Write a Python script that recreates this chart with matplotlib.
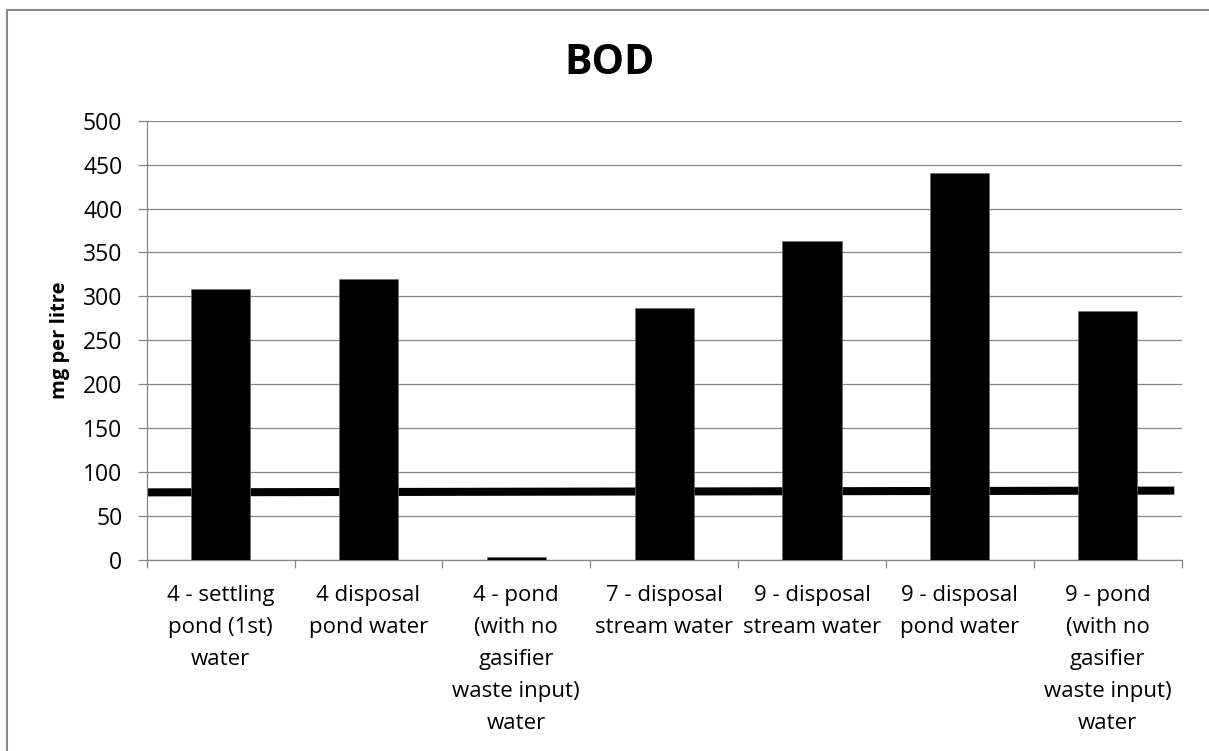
import matplotlib.pyplot as plt
from matplotlib.patches import Rectangle

plt.rcParams['font.family'] = ['Open Sans', 'DejaVu Sans']

# BOD readings per sampling site (mg per litre)
sites = ['4 - settling\npond (1st)\nwater',
         '4 disposal\npond water',
         '4 - pond\n(with no\ngasifier\nwaste input)\nwater',
         '7 - disposal\nstream water',
         '9 - disposal\nstream water',
         '9 - disposal\npond water',
         '9 - pond\n(with no\ngasifier\nwaste input)\nwater']
bod = [309, 320, 3, 287, 363, 441, 283]

# discharge limit line, drawn across the plot
limit_x = [-0.5, 6.45]
limit_y = [77, 79]

yticks = list(range(0, 501, 50))

grey = '#868686'

fig = plt.figure(figsize=(12.09, 7.51), dpi=100)
ax = fig.add_axes([0.1213, 0.2543, 0.8561, 0.585])

x = list(range(len(sites)))
ax.bar(x, bod, width=0.4, color='black', edgecolor='#6f6f6f', linewidth=0.5, zorder=3)
ax.plot(limit_x, limit_y, color='black', linewidth=5.8, solid_capstyle='butt', zorder=2)

ax.set_xlim(-0.5, len(sites) - 0.5)
ax.set_ylim(0, 500)
ax.set_yticks(yticks)
ax.yaxis.grid(True, color=grey, linewidth=0.9)
ax.set_axisbelow(True)

ax.set_xticks([i - 0.5 for i in range(len(sites) + 1)])
ax.set_xticklabels([])
ax.set_xticks(x, minor=True)
ax.set_xticklabels(sites, minor=True, fontsize=16, linespacing=1.68)
ax.tick_params(axis='x', which='minor', length=0, pad=18)
ax.tick_params(axis='x', which='major', length=6, width=0.9, color=grey)
ax.tick_params(axis='y', length=6.5, width=0.9, color=grey, labelsize=16.5, pad=11)

for side in ['top', 'right']:
    ax.spines[side].set_visible(False)
for side in ['left', 'bottom']:
    ax.spines[side].set_color(grey)
    ax.spines[side].set_linewidth(0.9)

ax.set_ylabel('mg per litre', fontsize=14.5, fontweight='bold', labelpad=9)
fig.text(0.504, 0.916, 'BOD', ha='center', va='center', fontsize=29.5, fontweight='bold')

# chart frame
fig.patches.append(Rectangle((6.5 / 1209, -0.1), 2, (751 - 9.5) / 751 + 0.1,
                             transform=fig.transFigure, fill=False,
                             edgecolor='#898989', linewidth=1.5))

fig.savefig('out.png', dpi=100)
